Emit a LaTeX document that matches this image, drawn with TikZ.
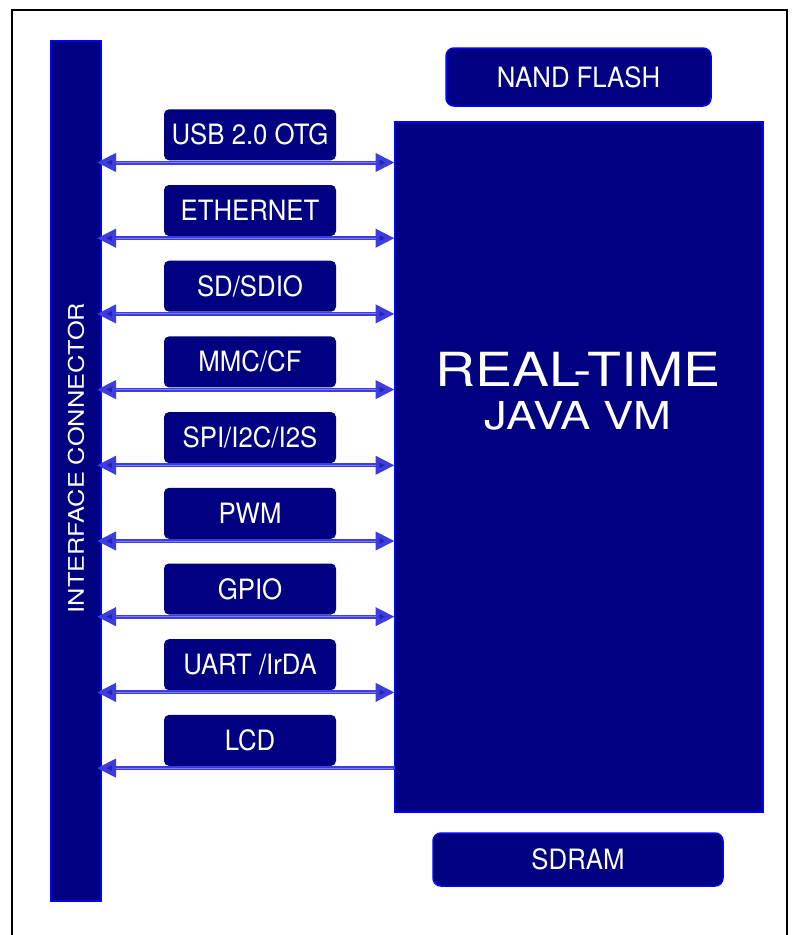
\documentclass[tikz,border=0pt]{standalone}
\usepackage{fontspec}
\setmainfont{TeX Gyre Heros}[FakeStretch=0.92]
\newfontfamily\widefont{TeX Gyre Heros}[FakeStretch=1.18]
\usetikzlibrary{calc,arrows.meta}
\definecolor{navy}{RGB}{0,0,128}
\definecolor{edge}{RGB}{0,0,255}
\definecolor{wire}{RGB}{60,60,225}
\definecolor{glow}{RGB}{125,125,250}
\definecolor{tip}{RGB}{36,36,180}

\begin{document}
\begin{tikzpicture}[x=1pt,y=-1pt,
    iface/.style={fill=navy,rounded corners=5pt,minimum width=172pt,minimum height=51pt,inner sep=0pt,text=white,font={\fontsize{28}{30}\selectfont},text height=20pt,text depth=0pt},
    mem/.style={iface,draw=edge,line width=1.5pt,rounded corners=8pt},
    block/.style={fill=navy,draw=edge,line width=2pt,inner sep=0pt},
    bus/.style={draw=wire,line width=4pt,{Triangle[length=19pt,width=18pt,fill=tip]}-{Triangle[length=19pt,width=18pt,fill=tip]},postaction={draw=glow,line width=1pt,-,shorten <=19pt,shorten >=19pt}},
    busleft/.style={draw=wire,line width=4pt,{Triangle[length=19pt,width=18pt,fill=tip]}-,postaction={draw=glow,line width=1pt,-,shorten <=19pt,shorten >=2pt}}]
    \useasboundingbox (0,0) rectangle (793,935);
    \clip (0,0) rectangle (793,935);
    \draw[line width=2pt] (12,10) rectangle (787,950);

    \node[block,minimum width=50pt,minimum height=860pt] (conn) at (76,471) {};
    \node[rotate=90,text=white,font={\widefont\fontsize{21.5}{24}\selectfont}] (connlbl) at (76,458) {INTERFACE CONNECTOR};

    \node[block,minimum width=368pt,minimum height=690pt] (vm) at (578.5,467) {};
    \node[text=white,font={\widefont\fontsize{47}{50}\selectfont}] (rt) at (578,369) {REAL-TIME};
    \node[text=white,font={\widefont\fontsize{38.5}{40}\selectfont}] (jvm) at (578,416) {JAVA VM};

    \node[mem,minimum width=265pt,minimum height=58pt] (nand) at (578.5,77) {NAND FLASH};
    \node[mem,minimum width=290pt,minimum height=53pt] (sdram) at (578,859.5) {SDRAM};

    \node[iface] (usb) at (250,134.8) {USB 2.0 OTG};
    \node[iface] (eth) at (250,210.5) {ETHERNET};
    \node[iface] (sd) at (250,286.2) {SD/SDIO};
    \node[iface] (mmc) at (250,361.9) {MMC/CF};
    \node[iface] (spi) at (250,437.6) {SPI/I2C/I2S};
    \node[iface] (pwm) at (250,513.3) {PWM};
    \node[iface] (gpio) at (250,589) {GPIO};
    \node[iface] (uart) at (250,664.7) {UART /IrDA};
    \node[iface] (lcd) at (250,740.4) {LCD};

    \draw[bus] ($(conn.east |- usb.south)+(-5,2)$) -- ($(vm.west |- usb.south)+(1,2)$);
    \draw[bus] ($(conn.east |- eth.south)+(-5,2)$) -- ($(vm.west |- eth.south)+(1,2)$);
    \draw[bus] ($(conn.east |- sd.south)+(-5,2)$) -- ($(vm.west |- sd.south)+(1,2)$);
    \draw[bus] ($(conn.east |- mmc.south)+(-5,2)$) -- ($(vm.west |- mmc.south)+(1,2)$);
    \draw[bus] ($(conn.east |- spi.south)+(-5,2)$) -- ($(vm.west |- spi.south)+(1,2)$);
    \draw[bus] ($(conn.east |- pwm.south)+(-5,2)$) -- ($(vm.west |- pwm.south)+(1,2)$);
    \draw[bus] ($(conn.east |- gpio.south)+(-5,2)$) -- ($(vm.west |- gpio.south)+(1,2)$);
    \draw[bus] ($(conn.east |- uart.south)+(-5,2)$) -- ($(vm.west |- uart.south)+(1,2)$);
    \draw[busleft] ($(conn.east |- lcd.south)+(-5,2)$) -- ($(vm.west |- lcd.south)+(1,2)$);
\end{tikzpicture}
\end{document}
